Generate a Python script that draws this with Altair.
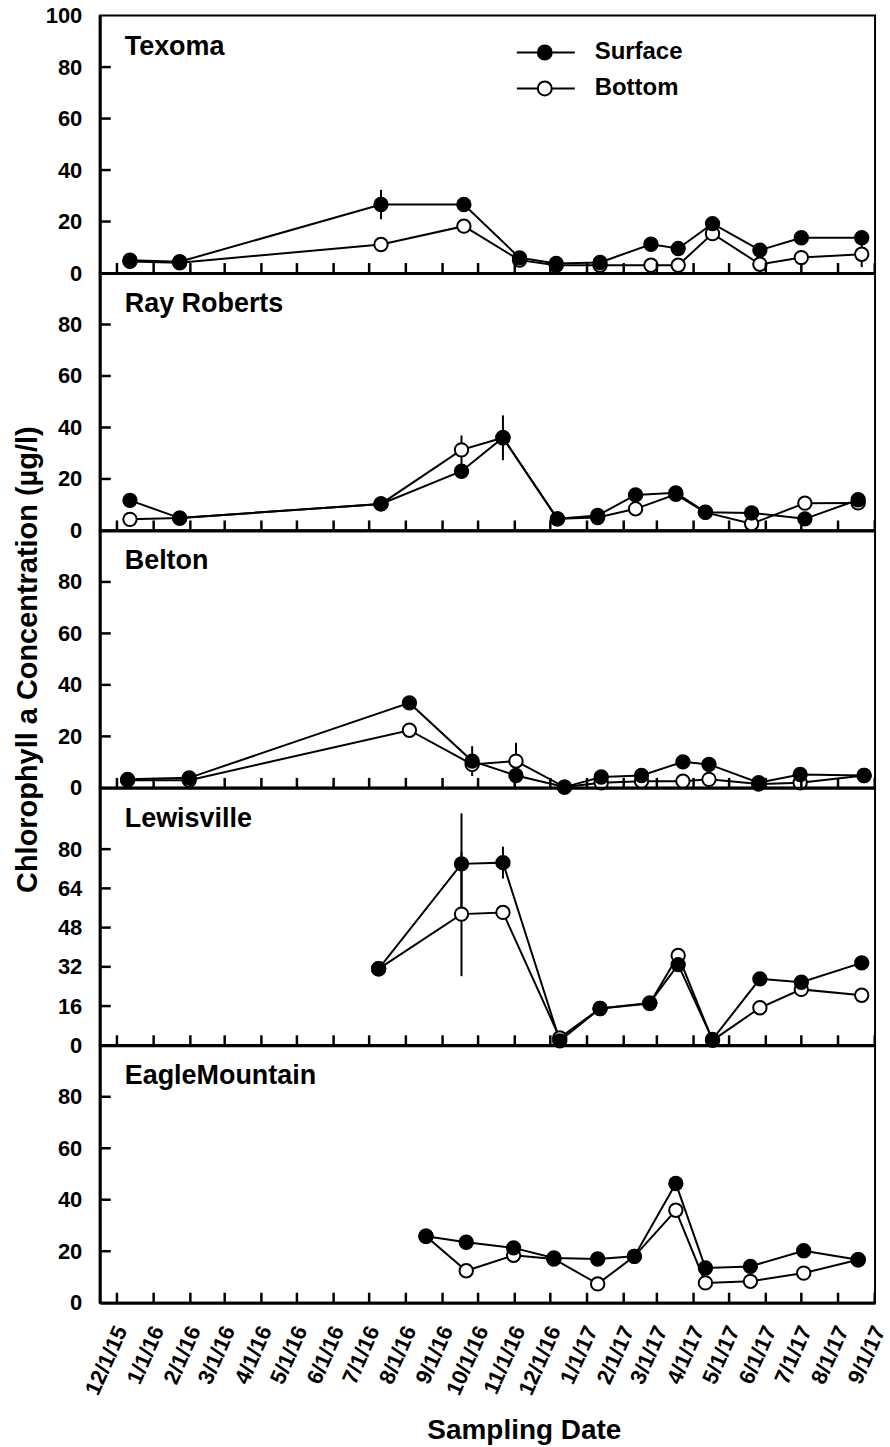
import altair as alt
import pandas as pd

FONT = "Liberation Sans"

LAKES = ["Texoma", "Ray Roberts", "Belton", "Lewisville", "EagleMountain"]

# Sampling dates and chlorophyll a (ug/l) per lake
texoma_dates = ["2015-12-12", "2016-01-23", "2016-07-11", "2016-09-19", "2016-11-05",
                "2016-12-06", "2017-01-12", "2017-02-24", "2017-03-19", "2017-04-17",
                "2017-05-27", "2017-07-01", "2017-08-21"]
texoma_surface = [5.0, 4.4, 26.6, 26.6, 5.9, 3.7, 4.1, 11.2, 9.5, 19.2, 8.9, 13.7, 13.7]
texoma_bottom = [4.5, 4.0, 11.1, 18.2, 5.0, 3.0, 3.0, 3.0, 3.0, 15.3, 3.4, 6.0, 7.3]

rayroberts_dates = ["2015-12-12", "2016-01-23", "2016-07-11", "2016-09-17", "2016-10-22",
                    "2016-12-07", "2017-01-10", "2017-02-11", "2017-03-17", "2017-04-11",
                    "2017-05-20", "2017-07-04", "2017-08-18"]
rayroberts_surface = [11.7, 4.8, 10.3, 23.0, 36.0, 4.5, 5.8, 13.8, 14.6, 7.1, 6.8, 4.5, 11.9]
rayroberts_bottom = [4.3, 4.8, 10.3, 31.3, 36.0, 4.5, 5.0, 8.4, 14.0, 7.0, 2.6, 10.6, 10.7]

belton_dates = ["2015-12-10", "2016-01-31", "2016-08-04", "2016-09-26", "2016-11-02",
                "2016-12-13", "2017-01-13", "2017-02-16", "2017-03-23", "2017-04-14",
                "2017-05-26", "2017-06-30", "2017-08-23"]
belton_surface = [3.3, 3.9, 33.0, 10.4, 4.8, 0.3, 4.2, 4.8, 10.1, 9.1, 2.0, 5.2, 4.8]
belton_bottom = [3.0, 3.0, 22.4, 9.1, 10.4, 0.3, 2.0, 2.6, 2.6, 3.3, 1.5, 2.0, 4.8]

lewisville_dates = ["2016-07-09", "2016-09-17", "2016-10-22", "2016-12-09", "2017-01-12",
                    "2017-02-23", "2017-03-19", "2017-04-17", "2017-05-27", "2017-07-01",
                    "2017-08-21"]
lewisville_surface = [31.2, 74.0, 74.5, 1.8, 15.0, 17.3, 32.9, 2.4, 27.1, 25.7, 33.6]
lewisville_bottom = [31.2, 53.5, 54.2, 3.0, 15.0, 17.0, 36.6, 2.0, 15.3, 22.8, 20.4]

eagle_dates = ["2016-08-18", "2016-09-21", "2016-10-31", "2016-12-04", "2017-01-10",
               "2017-02-10", "2017-03-17", "2017-04-11", "2017-05-19", "2017-07-03",
               "2017-08-18"]
eagle_surface = [25.8, 23.5, 21.3, 17.4, 17.0, 18.0, 46.3, 13.5, 14.1, 20.2, 16.7]
eagle_bottom = [25.8, 12.4, 18.4, 17.0, 7.3, 18.0, 35.9, 7.7, 8.3, 11.5, 16.7]

# Standard deviations drawn as vertical bars
err_lake = ["Texoma", "Texoma", "Ray Roberts", "Ray Roberts", "Ray Roberts",
            "Belton", "Belton", "Lewisville", "Lewisville", "Lewisville"]
err_depth = ["Surface", "Bottom", "Bottom", "Surface", "Surface",
             "Surface", "Bottom", "Surface", "Bottom", "Surface"]
err_date = ["2016-07-11", "2017-08-21", "2016-09-17", "2016-10-22", "2017-03-17",
            "2016-09-26", "2016-11-02", "2016-09-17", "2016-09-17", "2016-10-22"]
err_half = [5.7, 5.0, 5.6, 8.7, 2.0, 5.8, 7.1, 20.6, 25.3, 6.5]

# Y axis settings per lake: upper limit and labelled ticks
y_max = {"Texoma": 100, "Ray Roberts": 100, "Belton": 100, "Lewisville": 105, "EagleMountain": 100}
y_ticks = {
    "Texoma": [0, 20, 40, 60, 80, 100],
    "Ray Roberts": [0, 20, 40, 60, 80],
    "Belton": [0, 20, 40, 60, 80],
    "Lewisville": [0, 16, 32, 48, 64, 80],
    "EagleMountain": [0, 20, 40, 60, 80],
}

series = {
    "Texoma": (texoma_dates, texoma_surface, texoma_bottom),
    "Ray Roberts": (rayroberts_dates, rayroberts_surface, rayroberts_bottom),
    "Belton": (belton_dates, belton_surface, belton_bottom),
    "Lewisville": (lewisville_dates, lewisville_surface, lewisville_bottom),
    "EagleMountain": (eagle_dates, eagle_surface, eagle_bottom),
}

ISO = "%Y-%m-%dT%H:%M:%S"   # no zone: read as local time, like DateTime


def local(d):
    return d + "T00:00:00"


rows = []
for lake, (dates, surf, bot) in series.items():
    for d, v in zip(dates, bot):
        rows.append({"lake": lake, "depth": "Bottom", "z": 0, "date": local(d), "value": v})
    for d, v in zip(dates, surf):
        rows.append({"lake": lake, "depth": "Surface", "z": 1, "date": local(d), "value": v})
df = pd.DataFrame(rows)

vals = {(l, dp, d): v for l, dp, d, v in zip(df.lake, df.depth, df.date, df.value)}
err = pd.DataFrame({"lake": err_lake, "depth": err_depth,
                    "date": [local(d) for d in err_date], "half": err_half})
err["center"] = [vals[(l, dp, d)] for l, dp, d in zip(err.lake, err.depth, err.date)]
err["lo"] = err.center - err.half
err["hi"] = err.center + err.half

W, H = 777, 258
TICK_LEN = 10   # inward tick length, px

t_start = pd.Timestamp("2015-11-16 12:00")
t_end = pd.Timestamp("2017-09-01 06:00")
x_domain = [alt.DateTime(year=t_start.year, month=t_start.month, date=t_start.day, hours=t_start.hour),
            alt.DateTime(year=t_end.year, month=t_end.month, date=t_end.day, hours=t_end.hour)]
per_px = (t_end - t_start) / W

months = pd.date_range("2015-12-01", "2017-09-01", freq="MS")
month_ticks = [alt.DateTime(year=t.year, month=t.month, date=1) for t in months]

# Legend marker: short dash, circle, short dash
LEGEND_SYMBOL = "M-4,0L-1,0M1,0L4.3,0M1,0A1,1,0,1,1,-1,0A1,1,0,1,1,1,0Z"


def tick_table(lake):
    """Inward tick segments (bottom and left edges) expressed in data units."""
    ymax = y_max[lake]
    seg = []
    for t in months:
        s = t.strftime(ISO)
        seg.append({"x": s, "x2": s, "y": 0.0, "y2": TICK_LEN * ymax / H})
    t0 = t_start.strftime(ISO)
    t1 = (t_start + per_px * (TICK_LEN + 1)).strftime(ISO)
    for v in y_ticks[lake]:
        if 0 < v < 100:
            seg.append({"x": t0, "x2": t1, "y": float(v), "y2": float(v)})
    return pd.DataFrame(seg)


def panel(i, lake):
    last = i == len(LAKES) - 1
    d = df[df.lake == lake]
    e = err[err.lake == lake]
    ymax = y_max[lake]
    xs = alt.Scale(domain=x_domain)
    ys = alt.Scale(domain=[0, ymax], nice=False, zero=True)

    # bottom axis: heavy baseline (and dates on the last panel)
    x_kw = dict(orient="bottom", values=month_ticks, ticks=False, domain=True,
                domainWidth=3, domainColor="black", grid=False, labels=last,
                labelFlush=False, labelOverlap=False)
    if last:
        x_kw.update(format="%-m/%-d/%y", labelAngle=294, labelAlign="right",
                    labelBaseline="middle", labelPadding=24, labelOffset=4,
                    labelFontSize=22, labelBound=False,
                    titleFontSize=28, titlePadding=19, titleX=425)
    y_kw = dict(orient="left", values=y_ticks[lake], ticks=False, domain=True,
                domainWidth=3, domainColor="black", grid=False, labelFontSize=22,
                labelPadding=18, labelFlush=False, labelOverlap=False)
    if lake == "Belton":
        y_kw.update(titleFontSize=29, titlePadding=15)

    x_title = "Sampling Date" if last else None
    y_title = "Chlorophyll a Concentration (\u00b5g/l)" if lake == "Belton" else None

    lines = alt.Chart(d).mark_line(color="black", strokeWidth=2).encode(
        x=alt.X("date:T", scale=xs, axis=alt.Axis(**x_kw), title=x_title),
        y=alt.Y("value:Q", scale=ys, axis=alt.Axis(**y_kw), title=y_title),
        detail="depth:N",
    )

    fill_kw = dict(scale=alt.Scale(domain=["Surface", "Bottom"], range=["black", "white"]))
    if i == 0:
        fill_kw["legend"] = alt.Legend(
            orient="none", legendX=434, legendY=25, title=None, direction="vertical",
            symbolType=LEGEND_SYMBOL, symbolSize=196, symbolStrokeColor="black",
            symbolStrokeWidth=2, labelFont=FONT, labelFontSize=24, labelFontWeight="bold",
            labelColor="black", labelOffset=38, rowPadding=12, padding=0,
        )
    else:
        fill_kw["legend"] = None

    points = alt.Chart(d).mark_circle(size=180, stroke="black", strokeWidth=2, opacity=1).encode(
        x=alt.X("date:T", scale=xs, axis=None),
        y=alt.Y("value:Q", scale=ys, axis=None),
        fill=alt.Fill("depth:N", **fill_kw),
        order=alt.Order("z:Q"),
    )

    ticks = alt.Chart(tick_table(lake)).mark_rule(color="black", strokeWidth=2.5).encode(
        x=alt.X("x:T", scale=xs, axis=None),
        x2="x2:T",
        y=alt.Y("y:Q", scale=ys, axis=None),
        y2="y2:Q",
    )

    name = alt.Chart(pd.DataFrame({"lake": [lake]})).mark_text(
        align="left", baseline="alphabetic", font=FONT, fontSize=27,
        fontWeight="bold", color="black",
    ).encode(x=alt.value(25), y=alt.value(39), text="lake:N")

    # the first layer carries the axes
    layers = [lines]
    if len(e):
        layers.append(alt.Chart(e).mark_rule(color="black", strokeWidth=2).encode(
            x=alt.X("date:T", scale=xs, axis=None),
            y=alt.Y("lo:Q", scale=ys, axis=None),
            y2="hi:Q",
        ))
    layers += [points, ticks, name]
    return alt.layer(*layers).resolve_axis(x="independent", y="independent").properties(
        width=W, height=H)


chart = alt.vconcat(
    *[panel(i, lake) for i, lake in enumerate(LAKES)], spacing=0, bounds="flush"
).resolve_scale(
    x="independent", y="independent", fill="independent"
).resolve_legend(
    fill="independent"
).properties(
    padding={"left": 12, "top": 2, "right": 0, "bottom": 5}
).configure_view(
    stroke="black", strokeWidth=2
).configure_axis(
    labelFont=FONT, labelFontWeight="bold", labelColor="black",
    titleFont=FONT, titleFontWeight="bold", titleColor="black",
)

chart.save("out.html", embed_options={"renderer": "svg", "actions": False})
